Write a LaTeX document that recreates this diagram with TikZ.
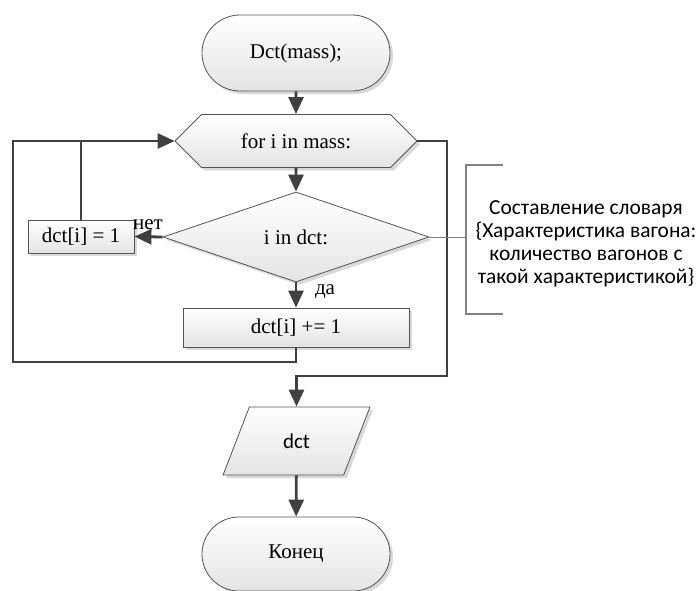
\documentclass[tikz,border=0pt]{standalone}
\usepackage{fontspec}
\setmainfont{Liberation Serif}
\newfontfamily\notefont{Carlito}
\usetikzlibrary{arrows.meta, shapes.geometric, shapes.misc, shadows}
\definecolor{cline}{HTML}{404040}
\definecolor{cedge}{HTML}{555555}
\definecolor{cshade}{HTML}{E4E4E4}
\definecolor{cbrack}{HTML}{808080}
\tikzset{
  every picture/.style={font=\fontsize{21}{25}\selectfont, line width=0.8pt},
  block/.style={draw=cedge, top color=white, bottom color=cshade, inner sep=0pt, align=center,
    general shadow={fill=black!15, shadow xshift=3pt, shadow yshift=-3pt}},
  term/.style={block, rounded rectangle, minimum width=188pt, minimum height=76pt},
  proc/.style={block, rectangle, minimum width=#1, minimum height=36pt},
  loopbox/.style={block, chamfered rectangle, chamfered rectangle xsep=45pt, chamfered rectangle ysep=19pt,
    minimum width=242pt, minimum height=38pt},
  decide/.style={block, diamond, minimum width=266pt, minimum height=90pt},
  iobox/.style={block, trapezium, trapezium left angle=63, trapezium right angle=117,
    trapezium stretches=true, minimum width=147pt, minimum height=68pt},
  flow/.style={draw=cline, line width=2.8pt, -{Triangle[length=17pt, width=15pt]}},
  link/.style={draw=cline, line width=2.8pt},
  note/.style={font=\notefont\fontsize{21.4}{23}\selectfont, align=center},
}

\begin{document}
\begin{tikzpicture}[x=1pt, y=-1pt]
  \useasboundingbox (0,0) rectangle (700,590);
  % blocks
  \node[term] (start) at (296,53) {Dct(mass);};
  \node[loopbox] (loop) at (296,141) {for i in mass:};
  \node[decide] (check) at (296,237) {i in dct:};
  \node[proc=106pt, minimum height=33pt] (seton) at (81,236.5) {dct[i] = 1};
  \node[proc=226pt, minimum height=39pt] (inc) at (296,327.5) {dct[i] += 1};
  \node[iobox] (out) at (296.5,441) {\notefont dct};
  \node[term, minimum height=74pt] (finish) at (296,554) {Конец};
  \node[inner sep=1pt] (no) at (148,225) {нет};
  \node[inner sep=1pt] (yes) at (325,292) {да};
  % loop corners
  \coordinate (back) at (13,362);
  \coordinate (exitR) at (447,376);
  \draw[flow] (start) -- (loop);
  \draw[flow] (loop) -- (check);
  \draw[flow] (check.west) -- (seton.east);
  \draw[flow] (check.south) -- (inc.north);
  \draw[flow] (inc.south) |- (back) |- (loop.west);
  \draw[link] (seton.north) -- (seton.north |- loop.west);
  \draw[flow] (loop.east) -| (exitR) -| (out.north);
  \draw[flow] (out) -- (finish);
  % comment
  \coordinate (brk) at (466,237);
  \node[note] (cmt) at (586,244) {Составление словаря\\{\{}Характеристика вагона:\\количество вагонов с\\такой характеристикой{\}}};
  \draw[cbrack, line width=0.8pt] (check.east) -- (brk);
  \draw[cbrack, line width=1.2pt] (503,165) -- (466,165) -- (466,314) -- (503,314);
\end{tikzpicture}
\end{document}
